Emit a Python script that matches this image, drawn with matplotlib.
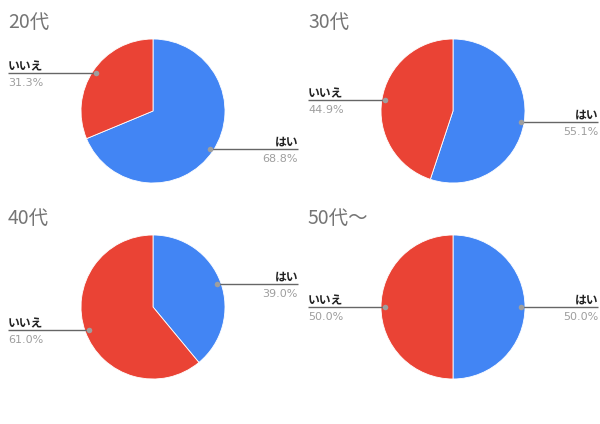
import numpy as np
import matplotlib
matplotlib.use("Agg")
import matplotlib.pyplot as plt

# データ
groups = ["20代", "30代", "40代", "50代～"]
labels = ["はい", "いいえ"]
yes_pct = [68.8, 55.1, 39.0, 50.0]
no_pct = [31.3, 44.9, 61.0, 50.0]
colors = ["#4285F4", "#EA4335"]

W, H = 600, 424
PANEL_W, PANEL_H = 300, 196
CX, CY, R = 153, 111, 72   # パネル内の円の中心と半径 (px)
JP = ["Noto Sans CJK JP", "DejaVu Sans"]

fig = plt.figure(figsize=(W / 100, H / 100), dpi=100)

for i, name in enumerate(groups):
    row, col = divmod(i, 2)
    x0, y0 = col * PANEL_W, row * PANEL_H
    cx, cy = x0 + CX, y0 + CY

    # タイトル
    fig.text((x0 + 8) / W, 1 - (y0 + 28) / H, name, fontsize=14,
             color="#757575", family=JP, va="baseline", ha="left")

    ax = fig.add_axes([(cx - R) / W, 1 - (cy + R) / H, 2 * R / W, 2 * R / H])
    vals = [yes_pct[i], no_pct[i]]
    wedges, _ = ax.pie(vals, colors=colors, startangle=90, counterclock=False,
                       radius=1, wedgeprops=dict(edgecolor="white", linewidth=0.6))
    ax.set_xlim(-1, 1)
    ax.set_ylim(-1, 1)
    ax.set_aspect("equal")
    ax.axis("off")

    # ラベルと引き出し線
    px = 1 / R
    for w, lab, v in zip(wedges, labels, vals):
        ang = np.deg2rad((w.theta1 + w.theta2) / 2)
        dx, dy = 0.95 * np.cos(ang), 0.95 * np.sin(ang)
        if dx >= 0:
            xe = (PANEL_W - 2 - CX) * px
            ha = "right"
        else:
            xe = (8 - CX) * px
            ha = "left"
        ax.plot([dx, xe], [dy, dy], color="#666666", lw=1, clip_on=False,
                solid_capstyle="butt")
        ax.plot([dx], [dy], "o", color="#9e9e9e", ms=4, mec="none", clip_on=False)
        ax.text(xe, dy + 3 * px, lab, fontsize=8.5, fontweight="bold",
                color="#222222", family=JP, ha=ha, va="baseline", clip_on=False)
        ax.text(xe, dy - 13 * px, f"{v:.1f}%", fontsize=8, color="#9e9e9e",
                family=["DejaVu Sans"], ha=ha, va="baseline", clip_on=False)

plt.savefig("out.png", dpi=100)
plt.close()
